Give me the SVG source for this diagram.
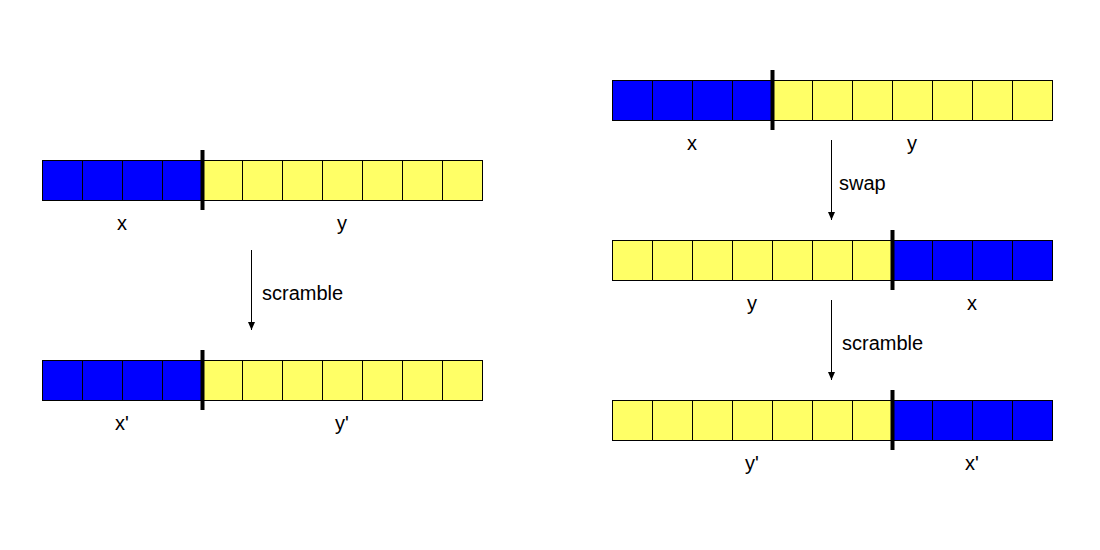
<svg xmlns="http://www.w3.org/2000/svg" xmlns:xlink="http://www.w3.org/1999/xlink" width="1100" height="550" viewBox="0 0 1100 550">
<style>
.b{fill:#0000ff;stroke:#000;stroke-width:1}
.y{fill:#ffff66;stroke:#000;stroke-width:1}
.div{stroke:#000;stroke-width:4}
.t{font-family:"Liberation Sans",Arial,sans-serif;font-size:20px;fill:#000}
.m{text-anchor:middle}
.arr{stroke:#000;stroke-width:1;fill:none;marker-end:url(#ah)}
</style>
<defs>
<marker id="ah" markerWidth="9" markerHeight="9" refX="8" refY="4.5" orient="auto" markerUnits="userSpaceOnUse">
<path d="M0,1 L8,4.5 L0,8 Z" fill="#000"/>
</marker>
<rect id="cb" class="b" x="0.5" y="0.5" width="40" height="40"/>
<rect id="cy" class="y" x="0.5" y="0.5" width="40" height="40"/>
</defs>
<rect width="1100" height="550" fill="#fff"/>

<g id="left-top">
<use xlink:href="#cb" x="42" y="160"/><use xlink:href="#cb" x="82" y="160"/><use xlink:href="#cb" x="122" y="160"/><use xlink:href="#cb" x="162" y="160"/>
<use xlink:href="#cy" x="202" y="160"/><use xlink:href="#cy" x="242" y="160"/><use xlink:href="#cy" x="282" y="160"/><use xlink:href="#cy" x="322" y="160"/><use xlink:href="#cy" x="362" y="160"/><use xlink:href="#cy" x="402" y="160"/><use xlink:href="#cy" x="442" y="160"/>
<line class="div" x1="202.5" y1="150" x2="202.5" y2="210"/>
<text class="t m" x="122" y="230">x</text>
<text class="t m" x="342" y="230">y</text>
</g>

<g id="left-bottom">
<use xlink:href="#cb" x="42" y="360"/><use xlink:href="#cb" x="82" y="360"/><use xlink:href="#cb" x="122" y="360"/><use xlink:href="#cb" x="162" y="360"/>
<use xlink:href="#cy" x="202" y="360"/><use xlink:href="#cy" x="242" y="360"/><use xlink:href="#cy" x="282" y="360"/><use xlink:href="#cy" x="322" y="360"/><use xlink:href="#cy" x="362" y="360"/><use xlink:href="#cy" x="402" y="360"/><use xlink:href="#cy" x="442" y="360"/>
<line class="div" x1="202.5" y1="350" x2="202.5" y2="410"/>
<text class="t m" x="122" y="430">x'</text>
<text class="t m" x="342" y="430">y'</text>
</g>

<g id="right-top">
<use xlink:href="#cb" x="612" y="80"/><use xlink:href="#cb" x="652" y="80"/><use xlink:href="#cb" x="692" y="80"/><use xlink:href="#cb" x="732" y="80"/>
<use xlink:href="#cy" x="772" y="80"/><use xlink:href="#cy" x="812" y="80"/><use xlink:href="#cy" x="852" y="80"/><use xlink:href="#cy" x="892" y="80"/><use xlink:href="#cy" x="932" y="80"/><use xlink:href="#cy" x="972" y="80"/><use xlink:href="#cy" x="1012" y="80"/>
<line class="div" x1="772.5" y1="70" x2="772.5" y2="130"/>
<text class="t m" x="692" y="150">x</text>
<text class="t m" x="912" y="150">y</text>
</g>

<g id="right-middle">
<use xlink:href="#cy" x="612" y="240"/><use xlink:href="#cy" x="652" y="240"/><use xlink:href="#cy" x="692" y="240"/><use xlink:href="#cy" x="732" y="240"/><use xlink:href="#cy" x="772" y="240"/><use xlink:href="#cy" x="812" y="240"/><use xlink:href="#cy" x="852" y="240"/>
<use xlink:href="#cb" x="892" y="240"/><use xlink:href="#cb" x="932" y="240"/><use xlink:href="#cb" x="972" y="240"/><use xlink:href="#cb" x="1012" y="240"/>
<line class="div" x1="892.5" y1="230" x2="892.5" y2="290"/>
<text class="t m" x="752" y="310">y</text>
<text class="t m" x="972" y="310">x</text>
</g>

<g id="right-bottom">
<use xlink:href="#cy" x="612" y="400"/><use xlink:href="#cy" x="652" y="400"/><use xlink:href="#cy" x="692" y="400"/><use xlink:href="#cy" x="732" y="400"/><use xlink:href="#cy" x="772" y="400"/><use xlink:href="#cy" x="812" y="400"/><use xlink:href="#cy" x="852" y="400"/>
<use xlink:href="#cb" x="892" y="400"/><use xlink:href="#cb" x="932" y="400"/><use xlink:href="#cb" x="972" y="400"/><use xlink:href="#cb" x="1012" y="400"/>
<line class="div" x1="892.5" y1="390" x2="892.5" y2="450"/>
<text class="t m" x="752" y="470">y'</text>
<text class="t m" x="972" y="470">x'</text>
</g>

<g id="connectors">
<line class="arr" x1="251.5" y1="250" x2="251.5" y2="330"/>
<text class="t" x="262" y="300">scramble</text>
<line class="arr" x1="831.5" y1="140" x2="831.5" y2="220"/>
<text class="t" x="839" y="190">swap</text>
<line class="arr" x1="831.5" y1="300" x2="831.5" y2="380"/>
<text class="t" x="842" y="350">scramble</text>
</g>
</svg>
